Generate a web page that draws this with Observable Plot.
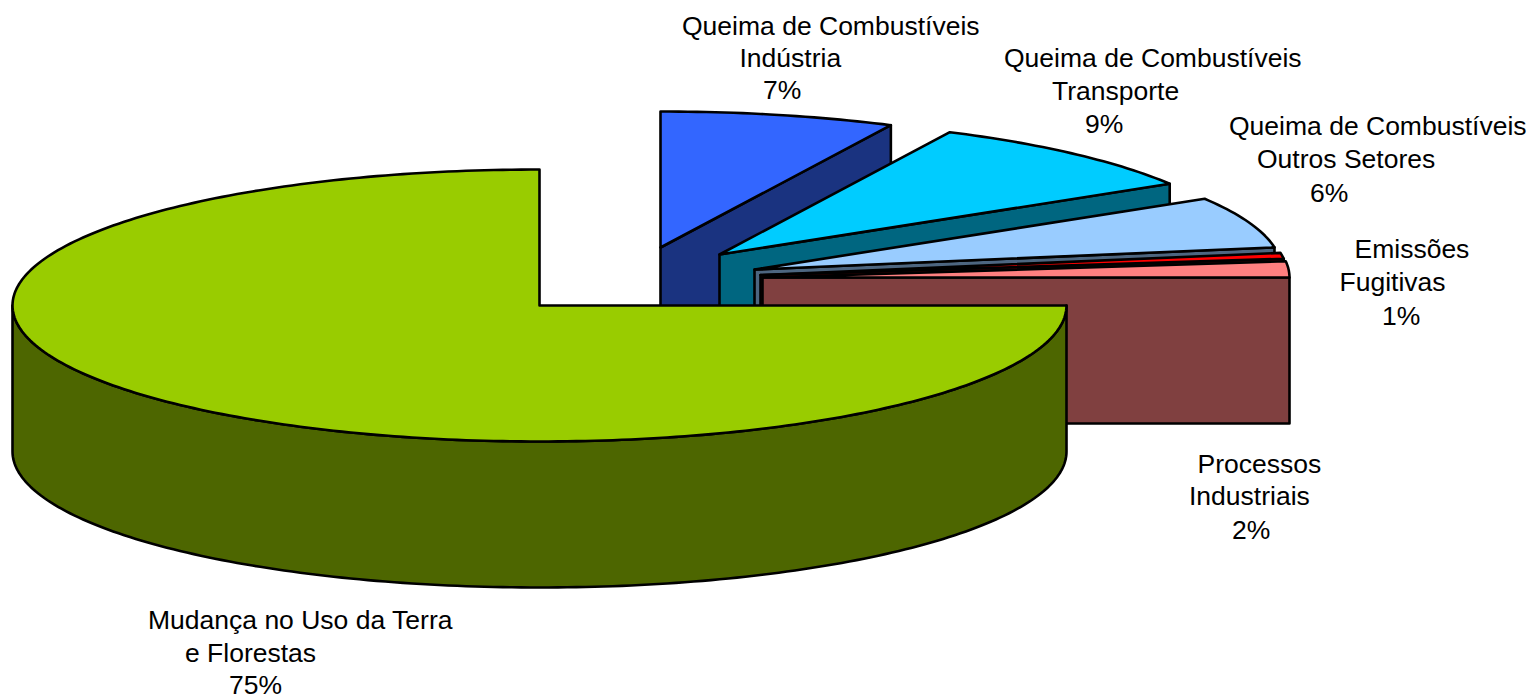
<!DOCTYPE html>
<html><head><meta charset="utf-8">
<style>html,body{margin:0;padding:0;background:#fff;overflow:hidden}svg{display:block}</style>
<script src="https://cdn.jsdelivr.net/npm/d3@7"></script>
<script src="https://cdn.jsdelivr.net/npm/@observablehq/plot@0.6"></script>
</head><body><script>
// Data
const categories = ["Queima de Combustíveis Indústria","Queima de Combustíveis Transporte","Queima de Combustíveis Outros Setores","Emissões Fugitivas","Processos Industriais","Mudança no Uso da Terra e Florestas"];
const values = [7.2, 9.1, 6.1, 0.7, 1.9, 75.0];
const topColors = ["#3366FF","#00CCFF","#99CCFF","#FF0000","#FF8080","#99CC00"];
const sideColors = ["#1A3380","#006680","#4D6680","#800000","#804040","#4D6600"];
// Layout of the exploded 3-D pie
const apexX = [660,719,754,760,762,539];
const apexY = [247,254,269,274.5,277,305];
const rx = 527, ry = 136, depth = 146;
// Labels
const labelLines = ["Queima de Combustíveis","Indústria","7%","Queima de Combustíveis","Transporte","9%","Queima de Combustíveis","Outros Setores","6%","Emissões","Fugitivas","1%","Processos","Industriais","2%","Mudança no Uso da Terra","e Florestas","75%"];
const labelX = [681.5,739,762.5,1003.5,1051.5,1084.5,1228.5,1256.5,1309.5,1354,1339,1381.5,1197,1188.5,1231.5,147.5,184.5,228.5];
const labelY = [26,58,90,58,91,124,126,159,193,249,282,316,464,496,530,620,653,685.5];

const rad = d => d*Math.PI/180;
const pt = (i,a,dz=0)=>({x:apexX[i]+rx*Math.sin(rad(a)), y:apexY[i]-ry*Math.cos(rad(a))+dz});
const arc = (i,a0,a1,dz=0)=>{const n=Math.max(2,Math.ceil(Math.abs(a1-a0)));return d3.range(n+1).map(k=>pt(i,a0+(a1-a0)*k/n,dz));};
const poly = (pts,fill)=>Plot.line(pts,{x:"x",y:"y",fill,stroke:"#000",strokeWidth:2.6,curve:"linear-closed",strokeLinejoin:"round"});

const marks=[];
let cum=0;
values.forEach((v,i)=>{
  const a0=cum*3.6, a1=(cum+=v)*3.6, A={x:apexX[i],y:apexY[i]};
  if(a1<=90.01){ // visible cut face
    const e=pt(i,a1);
    marks.push(poly([A,e,{x:e.x,y:e.y+depth},{x:A.x,y:A.y+depth}],sideColors[i]));
  }
  if(a1>90.01){ // visible rim
    const s=Math.max(a0,90), t=Math.min(a1,270);
    marks.push(poly([...arc(i,s,t),...arc(i,t,s,depth)],sideColors[i]));
  }
  marks.push(poly([A,...arc(i,a0,a1)],topColors[i]));
});
marks.push(Plot.text(labelLines,{x:(d,i)=>labelX[i],y:(d,i)=>labelY[i],text:d=>d,textAnchor:"start",fontSize:26.5,fontFamily:"Liberation Sans",fill:"#000",lineAnchor:"middle"}));

document.body.append(Plot.plot({width:1533,height:699,margin:0,
  x:{domain:[0,1533],range:[0,1533],axis:null},
  y:{domain:[0,699],range:[0,699],axis:null},
  style:{background:"#fff"},marks}));
</script></body></html>
